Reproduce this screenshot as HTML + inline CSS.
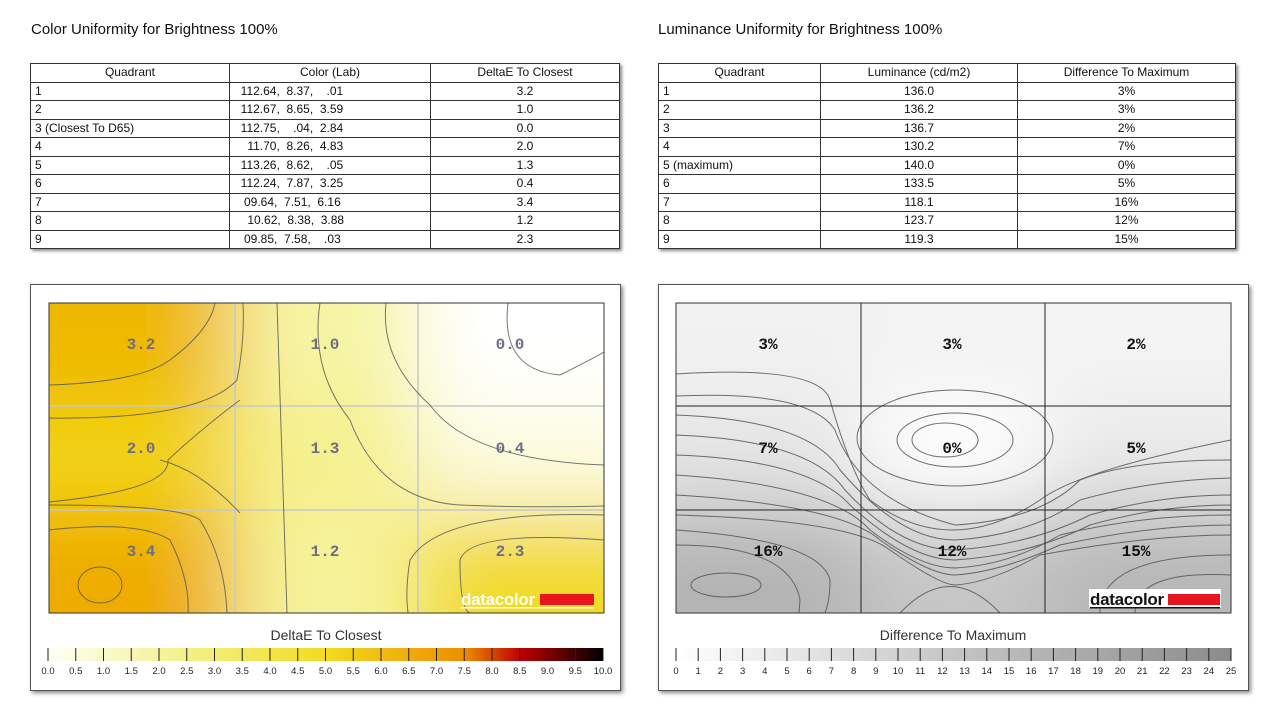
<!DOCTYPE html>
<html><head><meta charset="utf-8"><style>
body{margin:0;width:1280px;height:720px;background:#fff;font-family:"Liberation Sans",sans-serif;position:relative;overflow:hidden}
.t{position:absolute;font-size:15px;color:#111}
table{position:absolute;border-collapse:collapse;font-size:12px;color:#111;box-shadow:2px 2px 3px #888}
td{border:1px solid #333;height:17.5px;padding:0 4px;line-height:17px}
tr:first-child td{background:#fff;text-align:center}
.c{text-align:center}
.panel{position:absolute;border:1px solid #555;box-shadow:2px 2px 4px #888;background:#fff}
</style></head><body>
<div class="t" style="left:31px;top:21px">Color Uniformity for Brightness 100%</div>
<div class="t" style="left:658px;top:21px">Luminance Uniformity for Brightness 100%</div>
<table style="left:30px;top:63px;width:590px">
<tr><td style="width:190px">Quadrant</td><td style="width:192px">Color (Lab)</td><td>DeltaE To Closest</td></tr>
<tr><td>1</td><td>&nbsp; 112.64,&nbsp; 8.37,&nbsp;&nbsp;&nbsp; .01</td><td class="c">3.2</td></tr>
<tr><td>2</td><td>&nbsp; 112.67,&nbsp; 8.65,&nbsp; 3.59</td><td class="c">1.0</td></tr>
<tr><td>3 (Closest To D65)</td><td>&nbsp; 112.75,&nbsp;&nbsp;&nbsp; .04,&nbsp; 2.84</td><td class="c">0.0</td></tr>
<tr><td>4</td><td>&nbsp;&nbsp;&nbsp; 11.70,&nbsp; 8.26,&nbsp; 4.83</td><td class="c">2.0</td></tr>
<tr><td>5</td><td>&nbsp; 113.26,&nbsp; 8.62,&nbsp;&nbsp;&nbsp; .05</td><td class="c">1.3</td></tr>
<tr><td>6</td><td>&nbsp; 112.24,&nbsp; 7.87,&nbsp; 3.25</td><td class="c">0.4</td></tr>
<tr><td>7</td><td>&nbsp;&nbsp; 09.64,&nbsp; 7.51,&nbsp; 6.16</td><td class="c">3.4</td></tr>
<tr><td>8</td><td>&nbsp;&nbsp;&nbsp; 10.62,&nbsp; 8.38,&nbsp; 3.88</td><td class="c">1.2</td></tr>
<tr><td>9</td><td>&nbsp;&nbsp; 09.85,&nbsp; 7.58,&nbsp;&nbsp;&nbsp; .03</td><td class="c">2.3</td></tr>
</table>
<table style="left:658px;top:63px;width:578px">
<tr><td style="width:153px">Quadrant</td><td style="width:188px">Luminance (cd/m2)</td><td>Difference To Maximum</td></tr>
<tr><td>1</td><td class="c">136.0</td><td class="c">3%</td></tr>
<tr><td>2</td><td class="c">136.2</td><td class="c">3%</td></tr>
<tr><td>3</td><td class="c">136.7</td><td class="c">2%</td></tr>
<tr><td>4</td><td class="c">130.2</td><td class="c">7%</td></tr>
<tr><td>5 (maximum)</td><td class="c">140.0</td><td class="c">0%</td></tr>
<tr><td>6</td><td class="c">133.5</td><td class="c">5%</td></tr>
<tr><td>7</td><td class="c">118.1</td><td class="c">16%</td></tr>
<tr><td>8</td><td class="c">123.7</td><td class="c">12%</td></tr>
<tr><td>9</td><td class="c">119.3</td><td class="c">15%</td></tr>
</table>
<div class="panel" style="left:30px;top:284px;width:589px;height:405px"></div>
<div class="panel" style="left:658px;top:284px;width:589px;height:405px"></div>
<svg width="1280" height="720" style="position:absolute;left:0;top:0">
<defs>
<filter id="b" x="-50%" y="-50%" width="200%" height="200%"><feGaussianBlur stdDeviation="40"/></filter>
<clipPath id="cl"><rect x="49" y="303" width="555" height="310"/></clipPath>
<clipPath id="cr"><rect x="676" y="303" width="555" height="310"/></clipPath>
<linearGradient id="gl"><stop offset="0" stop-color="#fffff8"/><stop offset=".25" stop-color="#f3f08a"/><stop offset=".5" stop-color="#f2dc20"/><stop offset=".75" stop-color="#ed8d00"/><stop offset=".85" stop-color="#c00000"/><stop offset="1" stop-color="#000"/></linearGradient>
<linearGradient id="gr"><stop offset="0" stop-color="#fff"/><stop offset="1" stop-color="#777"/></linearGradient>
</defs>
<g clip-path="url(#cl)"><rect x="49" y="303" width="555" height="310" fill="#f4ec70"/>
<g filter="url(#b)">
<rect x="-50" y="200" width="285" height="205" fill="#efb800"/>
<rect x="235" y="200" width="183" height="205" fill="#f6f4a4"/>
<rect x="418" y="200" width="300" height="205" fill="#ffffff"/>
<rect x="-50" y="405" width="285" height="105" fill="#f2d418"/>
<rect x="235" y="405" width="183" height="105" fill="#f5f08c"/>
<rect x="418" y="405" width="300" height="105" fill="#fcfce0"/>
<rect x="-50" y="510" width="285" height="200" fill="#eeac00"/>
<rect x="235" y="510" width="183" height="200" fill="#f6f39a"/>
<rect x="418" y="510" width="300" height="200" fill="#f2da28"/>
</g>
<g fill="none" stroke="#c8c8c8" stroke-width="1.5"><path d="M235 303V613M418 303V613M49 406H604M49 510H604"/></g>
<g fill="none" stroke="#555" stroke-width="1" opacity=".8">
<path d="M49 385Q140 382 170 360Q210 330 215 303"/>
<path d="M49 418Q200 420 237 380Q245 340 243 303"/>
<path d="M277 303Q282 460 287 613"/>
<path d="M320 303Q310 370 350 420Q380 500 460 505Q530 508 604 506"/>
<path d="M386 303Q380 360 430 405Q470 460 604 465"/>
<path d="M508 303Q500 370 560 375Q590 360 604 352"/>
<path d="M49 502Q170 490 168 460Q200 430 240 400"/>
<path d="M49 505Q180 505 200 520Q225 560 227 613"/>
<path d="M49 530Q140 520 170 540Q190 580 188 613"/>
<path d="M240 513Q200 470 160 460"/>
<path d="M604 515Q440 510 410 560Q405 590 408 613"/>
<path d="M604 540Q470 530 460 560Q460 610 470 613"/>
<ellipse cx="100" cy="585" rx="22" ry="18"/>
</g>
<g font-family="Liberation Mono,monospace" font-size="16" font-weight="bold" fill="#6e6e80" text-anchor="middle">
<text x="141" y="349">3.2</text><text x="325" y="349">1.0</text><text x="510" y="349">0.0</text>
<text x="141" y="453">2.0</text><text x="325" y="453">1.3</text><text x="510" y="453">0.4</text>
<text x="141" y="556">3.4</text><text x="325" y="556">1.2</text><text x="510" y="556">2.3</text></g>
<text x="461" y="605" font-size="17" font-weight="bold" fill="#fff" letter-spacing="-0.3">datacolor</text>
<rect x="540" y="594" width="54" height="11" fill="#e8141e"/><rect x="461" y="607" width="133" height="1.5" fill="#fff"/>
</g>
<rect x="49" y="303" width="555" height="310" fill="none" stroke="#333"/>

<g clip-path="url(#cr)"><rect x="676" y="303" width="555" height="310" fill="#e0e0e0"/>
<g filter="url(#b)">
<rect x="600" y="200" width="261" height="205" fill="#f2f2f2"/>
<rect x="861" y="200" width="184" height="205" fill="#f3f3f3"/>
<rect x="1045" y="200" width="280" height="205" fill="#f4f4f4"/>
<rect x="600" y="405" width="261" height="105" fill="#e4e4e4"/>
<rect x="861" y="405" width="184" height="105" fill="#ffffff"/>
<rect x="1045" y="405" width="280" height="105" fill="#e8e8e8"/>
<rect x="600" y="510" width="261" height="200" fill="#b4b4b4"/>
<rect x="861" y="510" width="184" height="200" fill="#c6c6c6"/>
<rect x="1045" y="510" width="280" height="200" fill="#b7b7b7"/>
</g>
<g fill="none" stroke="#555" stroke-width="1" opacity=".85">
<path d="M676 374Q820 365 830 400Q850 470 870 500Q950 560 1040 500Q1080 470 1231 440"/>
<path d="M676 396Q810 390 835 430Q860 500 955 525Q1040 520 1080 480Q1130 460 1231 460"/>
<path d="M676 415Q810 420 840 470Q900 540 955 540Q1030 535 1080 500Q1150 480 1231 478"/>
<path d="M676 435Q810 440 845 490Q900 550 955 550Q1030 545 1090 515Q1160 495 1231 495"/>
<path d="M676 455Q810 460 850 505Q910 560 955 560Q1030 555 1090 525Q1160 505 1231 505"/>
<path d="M676 475Q830 485 870 530Q920 568 955 568Q1010 565 1060 535Q1140 515 1231 515"/>
<path d="M676 495Q840 505 880 540Q930 575 955 575Q1000 572 1060 545Q1150 525 1231 525"/>
<path d="M676 515Q850 520 890 550Q940 585 955 585Q990 583 1040 555Q1150 535 1231 535"/>
<path d="M676 530Q820 540 830 580Q830 600 825 613"/>
<path d="M676 545Q790 545 800 600L799 613"/>
<path d="M900 613Q950 560 1000 613"/>
<path d="M1231 555Q1100 555 1100 613"/>
<path d="M1231 575Q1135 570 1135 613"/>
<ellipse cx="726" cy="585" rx="35" ry="12"/>
<ellipse cx="955" cy="438" rx="98" ry="48"/>
<ellipse cx="955" cy="440" rx="58" ry="27"/>
<ellipse cx="945" cy="440" rx="33" ry="17"/>
</g>
<g fill="none" stroke="#222" stroke-width="1"><path d="M861 303V613M1045 303V613M676 406H1231M676 510H1231"/></g>
<g font-family="Liberation Mono,monospace" font-size="16" font-weight="bold" fill="#111" text-anchor="middle">
<text x="768" y="349">3%</text><text x="952" y="349">3%</text><text x="1136" y="349">2%</text>
<text x="768" y="453">7%</text><text x="952" y="453">0%</text><text x="1136" y="453">5%</text>
<text x="768" y="556">16%</text><text x="952" y="556">12%</text><text x="1136" y="556">15%</text></g>
<rect x="1089" y="589" width="132" height="19" fill="#fff"/>
<text x="1090" y="605" font-size="17" font-weight="bold" fill="#111" letter-spacing="-0.3">datacolor</text>
<rect x="1168" y="594" width="52" height="11" fill="#e8141e"/><rect x="1090" y="607" width="130" height="1.5" fill="#111"/>
</g>
<rect x="676" y="303" width="555" height="310" fill="none" stroke="#333"/>

<text x="326" y="640" font-size="14" fill="#333" text-anchor="middle">DeltaE To Closest</text>
<rect x="48" y="648" width="555" height="13" fill="url(#gl)"/>
<text x="953" y="640" font-size="14" fill="#333" text-anchor="middle">Difference To Maximum</text>
<rect x="676" y="648" width="555" height="13" fill="url(#gr)" opacity=".85"/>
<g id="ticks" stroke="#222" stroke-width="1"></g>
<g id="lbl" font-size="9.5" fill="#222" text-anchor="middle"></g>
</svg>
<script>
var t=document.getElementById('ticks'),l=document.getElementById('lbl'),s='';
for(var i=0;i<=20;i++){var x=48+i*555/20;s+='<line x1="'+x+'" x2="'+x+'" y1="648" y2="661"/>';}
for(var i=0;i<=25;i++){var x=676+i*555/25;s+='<line x1="'+x+'" x2="'+x+'" y1="648" y2="661"/>';}
t.innerHTML=s;s='';
for(var i=0;i<=20;i++){var x=48+i*555/20;s+='<text x="'+x+'" y="674">'+(i/2).toFixed(1)+'</text>';}
for(var i=0;i<=25;i++){var x=676+i*555/25;s+='<text x="'+x+'" y="674">'+i+'</text>';}
l.innerHTML=s;
</script>
</body></html>
